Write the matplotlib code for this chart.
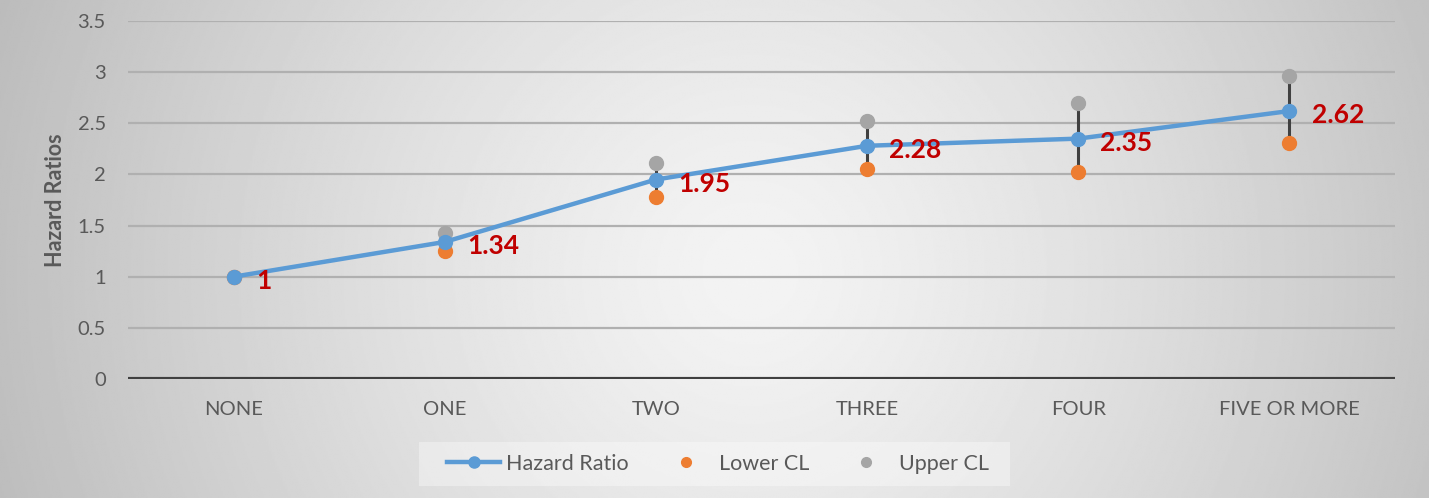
import numpy as np
import matplotlib.pyplot as plt
from matplotlib.lines import Line2D
from matplotlib.patches import Rectangle

# data
categorias = ['NONE', 'ONE', 'TWO', 'THREE', 'FOUR', 'FIVE OR MORE']
hazard_ratio = [1.00, 1.34, 1.95, 2.28, 2.35, 2.62]
lower_cl = [1.00, 1.25, 1.78, 2.05, 2.02, 2.31]
upper_cl = [1.00, 1.43, 2.11, 2.52, 2.70, 2.96]
rotulos = ['1', '1.34', '1.95', '2.28', '2.35', '2.62']

AZUL = '#5B9BD5'
LARANJA = '#ED7D31'
CINZA = '#A5A5A5'
VERMELHO = '#C00000'
TEXTO = '#595959'

plt.rcParams['font.family'] = ['Lato', 'DejaVu Sans']

W, H = 1429, 498
fig = plt.figure(figsize=(W / 100, H / 100), dpi=100)

# fundo com gradiente radial (claro no centro, cinza nas bordas)
fundo = fig.add_axes([0, 0, 1, 1], zorder=-10)
yy, xx = np.mgrid[-1:1:300j, -1:1:900j]
r = np.sqrt((xx - 0.05) ** 2 + ((yy - 0.1) * H / W) ** 2)
brilho = 0.955 - 0.19 * r ** 1.3
fundo.imshow(brilho, cmap='gray', vmin=0, vmax=1, aspect='auto',
             extent=[0, 1, 0, 1], interpolation='bilinear')
fundo.axis('off')

ax = fig.add_axes([128 / W, 1 - 379 / H, (1395 - 128) / W, (379 - 21) / H])
ax.patch.set_alpha(0)
x = np.arange(len(categorias))

# linhas horizontais da grade
for v in np.arange(0.5, 3.51, 0.5):
    ax.axhline(v, color='#B0B0B0', lw=1.6, zorder=0)
ax.axhline(0, color='#404040', lw=3, zorder=1)

# linhas alta-baixa
ax.vlines(x, lower_cl, upper_cl, color='#404040', lw=2.2, zorder=2)

ax.plot(x, upper_cl, 'o', color=CINZA, ms=10, zorder=3)
ax.plot(x, lower_cl, 'o', color=LARANJA, ms=10, zorder=3)
ax.plot(x, hazard_ratio, '-o', color=AZUL, lw=3.2, ms=10, zorder=4)

for xi, yi, txt in zip(x, hazard_ratio, rotulos):
    ax.annotate(txt, (xi, yi), xytext=(16, -3), textcoords='offset points',
                ha='left', va='center', color=VERMELHO, fontsize=19,
                fontweight='bold', zorder=5)

ax.set_xlim(-0.5, len(categorias) - 0.5)
ax.set_ylim(0, 3.5)
ax.set_yticks(np.arange(0, 3.51, 0.5))
ax.set_yticklabels(['0', '0.5', '1', '1.5', '2', '2.5', '3', '3.5'])
ax.set_xticks(x)
ax.set_xticklabels(categorias)
ax.tick_params(axis='both', length=0, labelsize=14.5, labelcolor=TEXTO)
ax.tick_params(axis='x', pad=16)
ax.tick_params(axis='y', pad=16)
for s in ax.spines.values():
    s.set_visible(False)

fig.text(55 / W, 1 - 200 / H, 'Hazard Ratios', rotation=90, ha='center',
         va='center', fontsize=15.5, fontweight='bold', color=TEXTO)

# caixa da legenda
fig.patches.append(Rectangle((419 / W, 1 - 486 / H), (1010 - 419) / W, 44 / H,
                             transform=fig.transFigure, facecolor='white',
                             alpha=0.35, edgecolor='none', zorder=-5))
handles = [
    Line2D([], [], color=AZUL, lw=3.2, marker='o', ms=8),
    Line2D([], [], color=LARANJA, lw=0, marker='o', ms=7),
    Line2D([], [], color=CINZA, lw=0, marker='o', ms=7),
]
fig.legend(handles, ['Hazard Ratio', 'Lower CL', 'Upper CL'],
           loc='center', bbox_to_anchor=(718 / W, 1 - 464 / H),
           ncol=3, frameon=False, fontsize=15.5, labelcolor=TEXTO,
           handlelength=2.5, handletextpad=0.28, columnspacing=1.4)

fig.savefig('out.png', dpi=100)
